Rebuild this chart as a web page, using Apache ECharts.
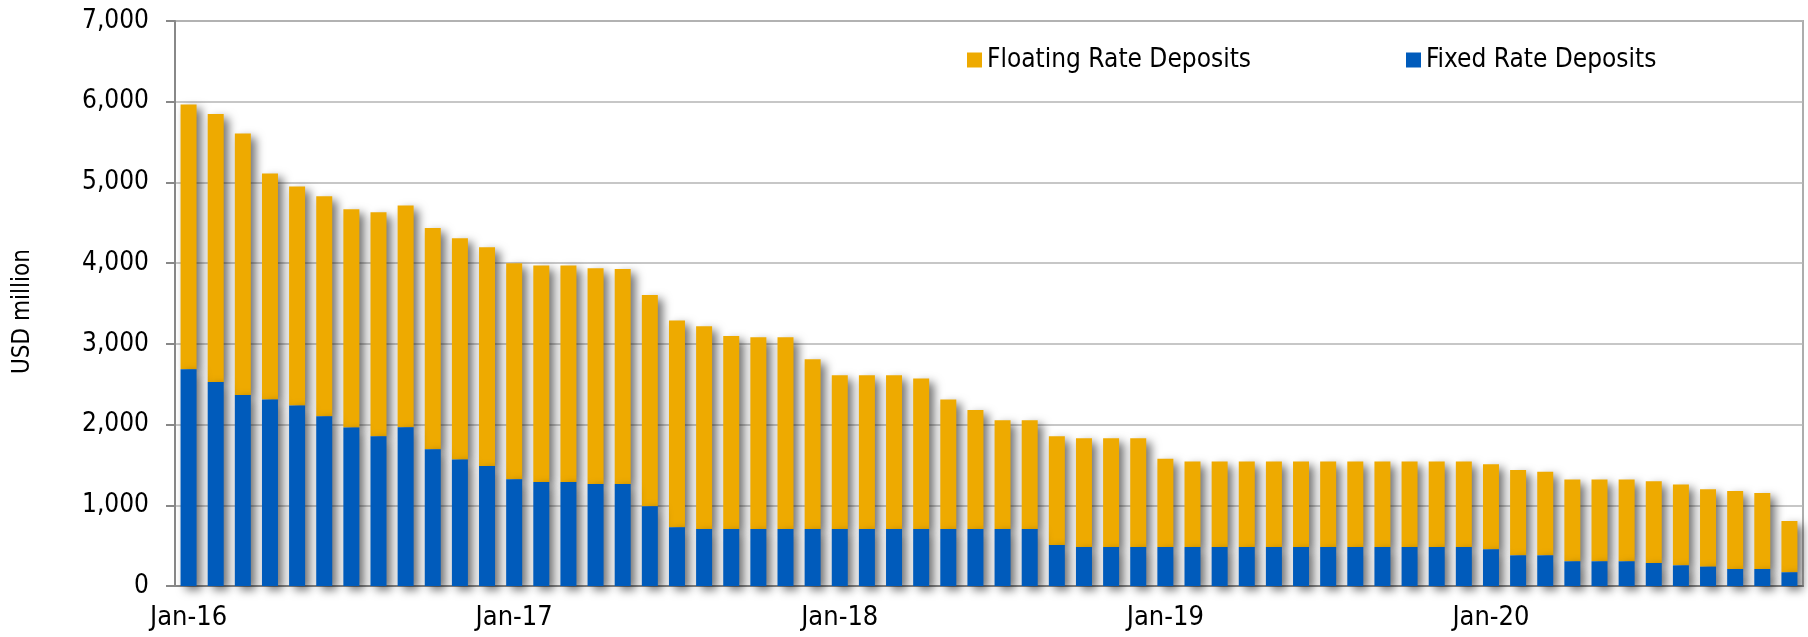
<!DOCTYPE html>
<html>
<head>
<meta charset="utf-8">
<style>
  html, body { margin: 0; padding: 0; background: #fff; }
  #chart { width: 1808px; height: 637px; }
</style>
<script src="https://cdn.jsdelivr.net/npm/echarts@6/dist/echarts.min.js"></script>
</head>
<body>
<div id="chart"></div>
<script>
// month labels, Jan-16 .. Dec-20
const months = ['Jan', 'Feb', 'Mar', 'Apr', 'May', 'Jun', 'Jul', 'Aug', 'Sep', 'Oct', 'Nov', 'Dec']
const years = ['16', '17', '18', '19', '20']
const categories = []
years.forEach(y => months.forEach(m => categories.push(m + '-' + y)))

// USD million
const fixedRate = [
  2685, 2528, 2367, 2310, 2235, 2103, 1963, 1855, 1967, 1694, 1566, 1487,
  1322, 1289, 1289, 1264, 1264, 988, 727, 707, 707, 707, 707, 707,
  707, 707, 707, 707, 707, 707, 707, 707, 508, 483, 483, 483,
  483, 483, 483, 483, 483, 483, 483, 483, 483, 483, 483, 483,
  455, 380, 380, 306, 306, 306, 285, 256, 240, 211, 211, 170
]
const floatingRate = [
  3280, 3321, 3239, 2800, 2714, 2726, 2705, 2776, 2747, 2742, 2743, 2710,
  2676, 2681, 2681, 2673, 2664, 2618, 2562, 2511, 2391, 2375, 2375, 2102,
  1904, 1904, 1904, 1863, 1603, 1474, 1346, 1346, 1347, 1347, 1347, 1347,
  1095, 1058, 1058, 1058, 1058, 1058, 1058, 1058, 1058, 1058, 1058, 1058,
  1053, 1058, 1037, 1012, 1012, 1012, 1012, 1000, 958, 967, 942, 636
]

const FONT = "'DejaVu Sans Condensed', 'DejaVu Sans', sans-serif"
const BLUE = '#005BBB'
const GOLD = '#EEAA00'

const chart = echarts.init(document.getElementById('chart'))

const barShadow = {
  shadowColor: 'rgba(0, 0, 0, 0.55)',
  shadowBlur: 10,
  shadowOffsetX: 5,
  shadowOffsetY: 4
}

chart.setOption({
  animation: false,
  textStyle: { fontFamily: FONT },
  grid: {
    left: 175,
    right: 5,
    top: 21,
    bottom: 51,
    show: true,
    borderColor: '#adadad',
    borderWidth: 2
  },
  legend: [
    {
      left: 962,
      top: 42,
      data: ['Floating Rate Deposits'],
      icon: 'rect',
      itemWidth: 15,
      itemHeight: 15,
      textStyle: { fontSize: 26, color: '#000', fontFamily: FONT }
    },
    {
      left: 1401,
      top: 42,
      data: ['Fixed Rate Deposits'],
      icon: 'rect',
      itemWidth: 15,
      itemHeight: 15,
      textStyle: { fontSize: 26, color: '#000', fontFamily: FONT }
    }
  ],
  xAxis: {
    type: 'category',
    data: categories,
    boundaryGap: true,
    axisLine: { lineStyle: { color: '#888', width: 2 } },
    axisTick: { interval: 11, length: 8, lineStyle: { color: '#888', width: 2 } },
    axisLabel: {
      interval: 11,
      margin: 18,
      fontSize: 27,
      color: '#000',
      fontFamily: FONT
    },
    splitLine: { show: false }
  },
  yAxis: {
    type: 'value',
    min: 0,
    max: 7000,
    interval: 1000,
    name: 'USD million',
    nameLocation: 'middle',
    nameGap: 140,
    nameTextStyle: { fontSize: 24, color: '#000', fontFamily: FONT, padding: [0, 16, 0, 0] },
    axisLine: { show: true, lineStyle: { color: '#888', width: 2 } },
    axisTick: { show: true, length: 9, lineStyle: { color: '#888', width: 2 } },
    axisLabel: {
      margin: 26,
      fontSize: 26,
      color: '#000',
      fontFamily: FONT,
      formatter: v => v.toLocaleString('en-US')
    },
    splitLine: { lineStyle: { color: '#b4b4b4', width: 1.5 } }
  },
  series: [
    {
      name: 'Fixed Rate Deposits',
      type: 'bar',
      stack: 'deposits',
      barWidth: '59%',
      z: 3,
      itemStyle: Object.assign({ color: BLUE }, barShadow),
      data: fixedRate
    },
    {
      name: 'Floating Rate Deposits',
      type: 'bar',
      stack: 'deposits',
      barWidth: '59%',
      z: 2,
      itemStyle: Object.assign({ color: GOLD }, barShadow),
      data: floatingRate
    }
  ]
})
</script>
</body>
</html>
